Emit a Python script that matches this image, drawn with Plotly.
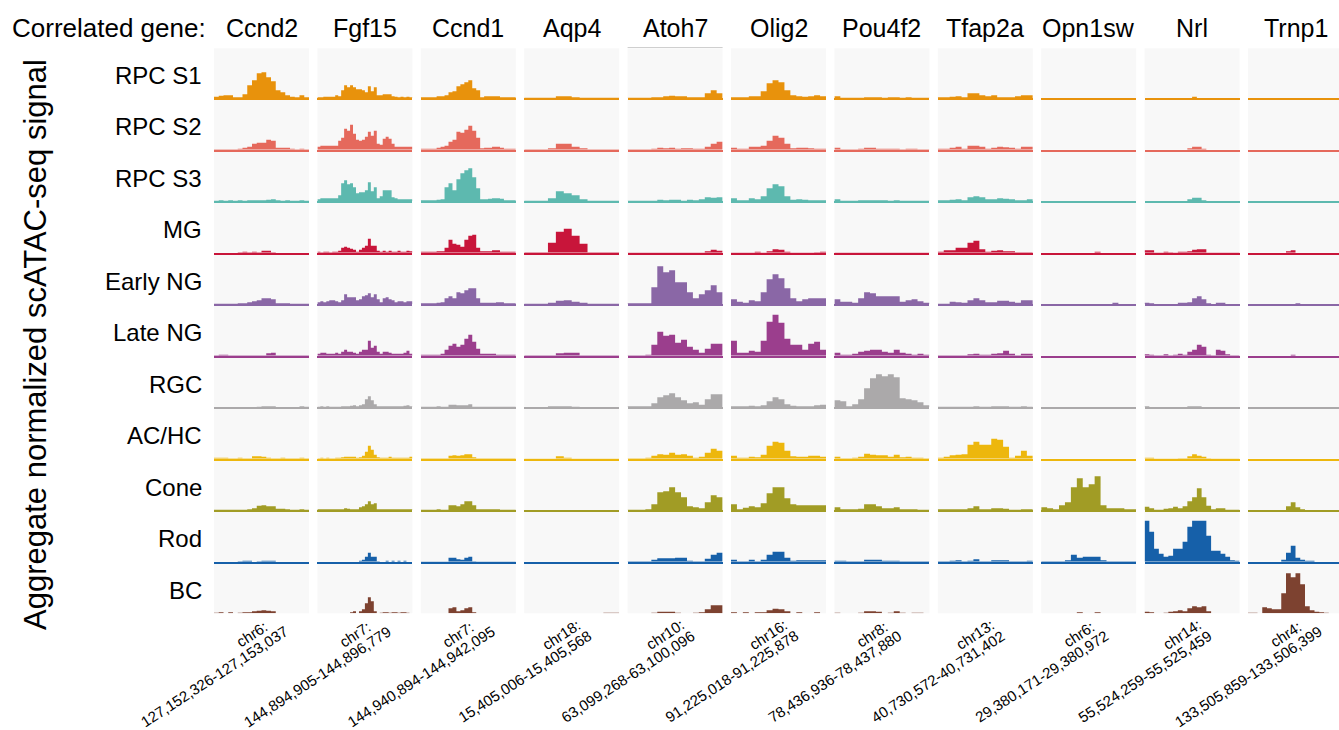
import plotly.graph_objects as go

W, H = 1339, 730

genes = ["Ccnd2", "Fgf15", "Ccnd1", "Aqp4", "Atoh7", "Olig2", "Pou4f2", "Tfap2a", "Opn1sw", "Nrl", "Trnp1"]
cell_types = ["RPC S1", "RPC S2", "RPC S3", "MG", "Early NG", "Late NG", "RGC", "AC/HC", "Cone", "Rod", "BC"]
region_chrom = ["chr6:", "chr7:", "chr7:", "chr18:", "chr10:", "chr16:", "chr8:", "chr13:", "chr6:", "chr14:", "chr4:"]
region_span = [
    "127,152,326-127,153,037",
    "144,894,905-144,896,779",
    "144,940,894-144,942,095",
    "15,405,006-15,405,568",
    "63,099,268-63,100,096",
    "91,225,018-91,225,878",
    "78,436,936-78,437,880",
    "40,730,572-40,731,402",
    "29,380,171-29,380,972",
    "55,524,259-55,525,459",
    "133,505,859-133,506,399",
]
row_colors = ["#E8920C", "#E5695C", "#5DB9AF", "#C8153A", "#8A67A6", "#9B3E8D",
              "#ABA9AA", "#EDB70D", "#A19C25", "#1660A9", "#7D4230"]

# aggregate signal per genomic bin, rows follow cell_types
ccnd2 = [
    [1.5, 2.5, 3, 3, 1, 1, 4, 13, 18, 25, 26, 21, 17, 8, 6, 3, 1.5, 1, 3, 1],
    [0.5, 0.5, 0.5, 0.5, 0.5, 1, 2, 3, 6, 7, 7, 10, 9, 2, 2, 2, 1, 0.5, 1, 0.5],
    [0.5, 1, 0.5, 1, 0.5, 1, 0.5, 1, 1, 1, 1, 1.5, 2, 1, 0.5, 1, 0.5, 0.5, 1, 0.5],
    [0, 0, 0, 0, 0, 0.5, 1, 0.5, 1, 0.5, 2, 2, 0.5, 0, 0, 0, 0, 0, 0, 0],
    [0.5, 0.5, 0.5, 0.5, 0.5, 1, 1, 2, 3, 4, 6, 6, 5, 1, 1, 1, 0.5, 0.5, 0.5, 0.5],
    [0.5, 1, 1, 0.5, 0.5, 0.5, 0.5, 0.5, 0.5, 0.5, 0.5, 2.5, 3, 0.5, 0.5, 0.5, 0.5, 0.5, 0.5, 0.5],
    [0, 0, 0, 0, 0, 0, 0, 0, 0, 0.5, 1, 1, 1, 0, 0, 0, 0, 0, 1, 0.5],
    [1, 1, 1, 0.5, 0.5, 1, 0.5, 0.5, 2.5, 2.5, 2, 1, 0.5, 0.5, 1, 0.5, 0.5, 0.5, 1, 0.5],
    [0.5, 0.5, 0.5, 0.5, 0.5, 0.5, 0.5, 1, 2, 4.5, 5, 4, 4, 1.5, 1.5, 1, 0.5, 0.5, 1, 0.5],
    [0, 0, 0, 0, 0, 0.5, 1, 1, 0, 0.5, 1, 1, 1, 0, 0, 0, 0, 0, 0, 0],
    [0.5, 1, 0, 1, 0, 0.5, 1, 1, 2, 2.5, 3, 2.5, 2, 0, 0, 0, 0, 0, 0, 0],
]
fgf15 = [
    [1, 1, 1.5, 1.5, 1.5, 1.5, 3, 2, 8, 13, 11, 13, 11, 9, 9, 8, 6, 12, 7, 11, 3, 3, 4, 4, 4, 2, 1.5, 1, 1.5, 1, 1.5, 1],
    [3, 4, 4, 4, 4, 4, 4, 9, 12, 21, 19, 25, 16, 10, 9, 10, 13, 18, 14, 19, 6, 5, 11, 13, 11, 6, 3, 3, 3, 3, 3, 3],
    [2, 3, 3, 3, 3, 3, 3, 6, 18, 21, 17, 18, 14, 8, 9, 9, 11, 19, 10, 14, 3, 5, 11, 11, 11, 4, 3, 2, 2, 2, 2, 2],
    [1, 0.5, 1, 1, 0.5, 1, 1, 2, 5, 6, 5, 4, 3, 1, 3, 5, 7, 14, 7, 7, 2, 1, 2, 1, 2, 1, 1, 2, 1, 1, 2, 1.5],
    [2, 3, 2, 3, 4, 4, 3, 2, 4, 10, 7, 7, 7, 4, 5, 8, 9, 11, 7, 10, 5, 2, 6, 7, 5, 4, 2, 3, 3, 2, 3, 3],
    [2, 3, 3, 2, 2, 2, 3, 2, 4, 6, 4, 4, 3, 2, 4, 6, 6, 15, 8, 10, 4, 2, 4, 4, 3, 2, 2, 2, 2, 3, 5, 2],
    [0.5, 1, 0.5, 1, 0.5, 0.5, 0.5, 0.5, 1, 1, 1, 1.5, 2, 1, 2, 3, 8, 11, 7, 3, 1, 1, 1, 1, 1, 1, 1, 1, 1, 1.5, 2, 1],
    [0.5, 1, 0.5, 1, 0.5, 0.5, 1, 1, 1.5, 2, 2, 2, 2, 1, 1.5, 3, 7, 13, 9, 4, 1.5, 1, 1, 1, 2, 1, 1, 1, 1, 1, 1, 2],
    [1, 1, 1, 1, 1, 1, 1, 1, 1, 2, 1.5, 1, 1, 1, 3, 4, 6, 9, 6, 7, 1, 1, 1, 1, 1, 1, 1, 1, 1, 1, 1, 1],
    [0, 0, 0, 0, 0, 0, 0, 0, 0, 0, 0, 0, 0, 0, 1, 2, 5, 9, 5, 5, 0.5, 0, 0, 1, 0, 1, 0, 1, 0, 1, 0, 0],
    [0, 0, 0, 0, 0, 0, 0, 0, 0, 0, 0, 1, 2, 0, 2, 4, 10, 16, 12, 2, 0, 0.5, 1, 1, 0.5, 1, 1, 0.5, 1, 1, 0.5, 0],
]
ccnd1 = [
    [1, 1, 1, 1, 2, 2, 3, 6, 7, 12, 14, 16, 18, 10, 8, 1, 2, 2, 2, 2, 1, 1, 1, 1],
    [1, 1, 1, 1, 2, 3, 4, 8, 10, 18, 17, 20, 24, 19, 12, 1.5, 2, 2, 3, 3, 2, 1, 1, 1],
    [1, 1, 1, 1, 1.5, 2, 14, 18, 11, 22, 28, 31, 33, 24, 13, 2, 2, 2.5, 3, 3, 2.5, 1, 1, 1],
    [1, 1, 1, 1, 1.5, 1.5, 5, 13, 9, 8, 6, 13, 17, 18, 5, 1.5, 1.5, 1.5, 2.5, 2.5, 1, 1, 1, 1],
    [1, 1, 1, 1, 1.5, 2, 6, 8, 6, 12, 11, 14, 16, 16, 6, 1.5, 1.5, 1.5, 1.5, 2, 2, 1, 1, 1],
    [1, 1, 1, 1, 1, 2, 6, 10, 12, 9, 11, 17, 21, 14, 7, 2, 2, 2, 2, 1, 1, 1, 1, 1],
    [0.5, 0.5, 0.5, 0.5, 1, 0.5, 0.5, 2.5, 2.5, 2, 2, 2, 3, 0.5, 0.5, 0.5, 0.5, 0.5, 0.5, 0.5, 0.5, 0.5, 0.5, 0.5],
    [0.5, 0.5, 0.5, 0.5, 0.5, 0.5, 0.5, 3, 3.5, 3, 3.5, 4.5, 4.5, 1.5, 0.5, 0.5, 0.5, 0.5, 0.5, 0.5, 0.5, 0.5, 0.5, 0.5],
    [0.5, 0.5, 0.5, 0.5, 1, 0.5, 0.5, 5, 5, 4, 6, 9, 9, 5, 1, 1, 1, 1, 1, 1, 0.5, 0.5, 0.5, 0.5],
    [0.3, 0.3, 0.3, 0.3, 0.3, 0.3, 0.3, 4, 4, 2.5, 2, 4, 5, 0.5, 0.3, 0.3, 0.3, 0.3, 0.3, 0.3, 0.3, 0.3, 0.3, 0.3],
    [0, 0, 0, 0, 0, 0, 0, 5, 6, 2, 3, 5, 6, 1, 0, 0, 0, 0, 0, 0, 0, 0, 0, 0],
]
aqp4 = [
    [0.5, 0.5, 0.5, 0.5, 2, 2, 1, 0.5, 0.5, 0.5, 0.5, 0.5],
    [0.5, 0.5, 0.5, 1.5, 6, 6, 3, 1.5, 0.5, 0.5, 0.5, 0.5],
    [0.5, 0.5, 0.5, 3, 10, 8, 6, 2, 0.5, 0.5, 0.5, 0.5],
    [0.5, 0.5, 0.5, 10, 21, 24, 17, 9, 0.5, 0.5, 0.5, 0.5],
    [0.5, 0.5, 0.5, 1.5, 3.5, 4, 2.5, 1.5, 0.5, 0.5, 0.5, 0.5],
    [0.5, 0.5, 0.5, 0.5, 2.5, 3, 3, 0.5, 0.5, 0.5, 0.5, 0.5],
    [0, 0, 0, 1, 1, 1, 0.5, 0, 0, 0, 0, 0],
    [0.3, 0.3, 0.3, 0.3, 2.5, 1, 0.3, 0.3, 0.3, 0.3, 0.3, 0.3],
    [0, 0, 0, 0, 0, 0, 0, 0, 0, 0, 0, 0],
    [0, 0, 0, 0, 0, 0, 0, 0, 0, 0, 0, 0],
    [0, 0, 0, 0, 0, 0, 0, 0, 0, 0, 0.5, 0.5],
]
atoh7 = [
    [0.5, 0.5, 0.5, 0.5, 1, 1, 2, 2.5, 2, 2, 1, 1, 1, 5, 8, 5],
    [0.5, 0.5, 0.5, 0.5, 1, 2, 1.5, 2, 1, 1.5, 1.5, 1, 1, 3, 6, 8],
    [0.5, 0.5, 0.5, 0.5, 0.5, 1.5, 1, 1.5, 1.5, 0.5, 1.5, 1, 2, 4, 3.5, 4],
    [0.3, 0.3, 0.3, 0.3, 0.3, 0.3, 0.3, 0.3, 0.3, 0.3, 0.3, 0.3, 0.3, 1.5, 3, 2],
    [1, 1, 1, 1, 17, 38, 32, 34, 22, 22, 12, 6, 10, 14, 19, 12],
    [0.5, 0.5, 0.5, 1, 11, 24, 20, 21, 13, 16, 9, 6, 3, 7, 12, 12],
    [1, 1, 1, 1, 4, 10, 12, 14, 10, 7, 4, 5, 2.5, 8, 13, 13],
    [0.5, 0.5, 0.5, 1, 3, 4.5, 4, 6, 4, 4.5, 3, 1, 2, 6, 10, 8],
    [0.5, 0.5, 0.5, 1, 6, 18, 19, 23, 18, 13, 4, 3, 2, 8, 15, 13],
    [0.5, 0.5, 0.5, 0.5, 2, 3.5, 3.5, 3.5, 4, 4, 1, 0.5, 0.5, 3, 7, 9],
    [0, 0, 0, 0, 0.5, 1.5, 1.5, 1.5, 0.5, 0, 0, 0.5, 1, 4, 8, 8],
]
olig2 = [
    [1, 1, 1, 2, 2, 7, 15, 18, 16, 8, 3, 2, 1.5, 2, 3, 2],
    [2, 1, 1, 3, 3, 4, 9, 14, 12, 6, 1.5, 2, 2, 1.5, 1, 1],
    [3, 1, 1, 3, 2, 5, 13, 17, 15, 5, 1.5, 2, 1.5, 1, 1, 1],
    [0.3, 0.3, 0.3, 0.3, 1, 0.3, 1.5, 3.5, 3, 1, 0.3, 0.3, 0.3, 0.3, 0.5, 1],
    [5, 2.5, 1.5, 4, 3, 12, 25, 30, 26, 16, 6, 3, 5, 6, 6, 6],
    [15, 3, 3, 5, 4, 15, 34, 41, 33, 17, 11, 11, 6, 12, 14, 6],
    [1, 1, 1, 1.5, 1, 2, 6, 10, 8, 3, 1.5, 1, 1, 1, 2, 2.5],
    [3, 1, 1, 2, 1.5, 4, 13, 17, 16, 8, 2.5, 2, 2, 3, 3, 2],
    [6, 1, 2.5, 4, 3, 7, 17, 23, 23, 12, 6, 5, 5, 5, 5, 5],
    [2, 0.5, 0.5, 2, 0.5, 2, 7, 10, 10, 4, 1, 1.5, 1.5, 1.5, 1.5, 1.5],
    [1, 0, 1, 0, 1, 1, 3, 4.5, 4, 2, 0, 1, 0, 0, 1, 0],
]
pou4f2 = [
    [2, 0.5, 0.5, 0.5, 0.5, 1, 1, 1, 0.5, 1, 1, 0.5, 1, 0.5, 0.5, 0.5],
    [2, 0.5, 0.5, 0.5, 1, 2, 2, 1, 1, 1, 1, 0.5, 1, 1, 0.5, 0.5],
    [2, 0.5, 0.5, 0.5, 1, 1, 1, 1, 1, 0.5, 1, 0.5, 0.5, 0.5, 0.5, 0.5],
    [0.3, 0.3, 0.3, 0.3, 0.3, 0.3, 0.3, 0.3, 0.3, 0.3, 0.3, 0.3, 0.3, 0.3, 0.3, 0.3],
    [5, 2.5, 2.5, 1.5, 6, 12, 11, 8, 8, 8, 8, 2.5, 4, 5, 3, 1.5],
    [3, 1, 1, 2, 4, 5, 6, 6, 4, 3, 6, 3, 2, 1, 2, 1],
    [7, 6, 1, 3, 8, 19, 29, 33, 31, 33, 30, 9, 8, 7, 5, 2],
    [2, 0.5, 0.5, 1, 2, 5, 4, 3.5, 3.5, 2, 4, 1.5, 2, 1, 1, 0.5],
    [3, 1, 1, 1, 1.5, 6, 6, 4, 2, 2, 3, 1, 1, 1, 0.5, 0.5],
    [1, 1, 0.5, 0.5, 0.5, 2, 2, 2, 1, 1, 1, 0.5, 0.5, 0.5, 0.5, 0.5],
    [0.5, 0, 0, 0, 0.5, 2, 2, 1.5, 0, 0.5, 2, 0.5, 0, 0.5, 0.5, 0],
]
tfap2a = [
    [1, 1, 1.5, 2, 1, 5, 5, 3, 2, 3, 1, 1, 1, 2, 3, 3],
    [1, 1, 2, 3, 1, 4, 4, 3, 1, 2, 3, 2.5, 2, 1, 3, 3],
    [1, 1, 1.5, 2, 1, 4, 5, 4, 2, 2, 3, 2.5, 2, 1, 1, 2],
    [1, 2.5, 2.5, 5, 5, 10, 12, 3.5, 1, 2, 2.5, 1.5, 1.5, 0.5, 0.5, 0.5],
    [0.5, 0.5, 2.5, 2, 1.5, 4, 6, 4, 2, 2, 3.5, 3.5, 2.5, 1.5, 4, 4],
    [0.5, 0.5, 0.5, 0.5, 0.5, 1.5, 2, 1, 1, 2, 2.5, 5, 2, 0.5, 2, 2],
    [0.5, 0.5, 0.5, 0.5, 0.5, 0.5, 1, 0.5, 0.5, 1, 1, 1, 0.5, 0.5, 1, 0.5],
    [1, 2, 3.5, 4, 4.5, 14, 17, 14, 14, 20, 19, 12, 1, 3, 8, 3],
    [1, 1, 1, 1, 1, 2, 4, 1, 1, 2, 2, 1.5, 0.5, 0.5, 1, 1],
    [0.5, 0.5, 1, 1.5, 0.5, 1, 2.5, 0.5, 0.5, 1.5, 1.5, 1.5, 0.5, 0.5, 0.5, 1],
    [0, 0, 0, 0, 0, 0, 0, 0, 0, 0, 0, 0, 0, 0, 0, 0],
]
opn1sw = [
    [0, 0, 0, 0, 0, 0, 0, 0, 0, 0, 0, 0, 0, 0, 0, 0],
    [0, 0, 0, 0, 0, 0, 0, 0, 0, 0, 0, 0, 0, 0, 0, 0],
    [0, 0, 0, 0, 0, 0, 0, 0, 0, 0, 0, 0, 0, 0, 0, 0],
    [0, 0, 0, 0, 0, 0, 0, 0, 0, 1, 0, 0, 0, 0, 0, 0],
    [0, 0, 0, 0, 0, 0, 0, 0, 0, 0, 0, 0, 1.5, 0, 0, 0],
    [0, 0, 0, 0, 0, 0, 0, 0, 0, 0, 0, 0, 0, 0, 0, 0],
    [0, 0, 0, 0, 0, 0, 0, 0, 0, 0, 0, 0, 0, 0, 0, 0],
    [0, 0, 0, 0, 0, 0, 0, 0, 0, 0, 0, 0, 0, 0, 0, 0],
    [3, 2, 1, 5, 8, 23, 32, 23, 26, 34, 5, 2, 2, 2, 1, 1],
    [0.5, 0.5, 0.5, 0.5, 1.5, 7, 4, 5, 5, 5, 1.5, 0.5, 0.5, 0.5, 0.5, 0.5],
    [0, 0, 0, 0, 0, 0, 1, 0, 0, 1, 0, 0, 0, 0, 0, 0],
]
nrl = [
    [0, 0, 0, 0, 0, 0, 0, 0, 0, 0, 1.5, 0, 0, 0, 0, 0, 0, 0, 0, 0],
    [0, 0, 0, 0, 0, 0, 0, 0, 0, 1.5, 3, 3, 1, 0, 0, 0, 0, 0, 0, 0],
    [0, 0, 0, 0, 0, 0, 0, 0, 0, 2, 3.5, 3.5, 1, 0, 0, 0, 0, 0, 0, 0],
    [2.5, 2.5, 0.3, 0.3, 1, 0.5, 0.3, 1, 1, 1.5, 3, 3.5, 3.5, 0.3, 0.3, 0.3, 0.3, 0.3, 0.3, 0.3],
    [1.5, 1, 0.3, 0.3, 0.3, 0.3, 0.3, 1.5, 1.5, 2, 6, 8, 5, 1, 0.3, 1.5, 1.5, 0.3, 0.3, 0.3],
    [1.5, 1, 0.5, 0.5, 1.5, 0.5, 1, 2, 1, 4, 6, 11, 9, 1, 0.5, 6, 5, 1.5, 0.5, 0.5],
    [1, 0, 0, 0, 0, 0, 0, 0, 0, 1, 1, 1, 0, 0, 0, 0, 0, 0, 0, 0],
    [1, 1, 0.3, 0.3, 0.3, 0.3, 0.3, 0.5, 0.5, 2.5, 4.5, 3, 2, 0.5, 0.3, 0.3, 0.3, 0.3, 0.3, 0.3],
    [3.5, 2, 0.5, 0.5, 1.5, 2, 3.5, 2, 4, 9, 13, 22, 13, 4.5, 1, 2, 2, 0.5, 0.5, 0.5],
    [41, 30, 13, 8, 5, 6, 13, 13, 20, 35, 41, 41, 41, 26, 11, 11, 8, 5, 1.5, 1],
    [1.5, 1, 0, 0, 0.5, 1.5, 2, 3, 2, 5, 7, 6, 7, 2, 0, 0, 0, 0, 0, 0],
]
trnp1 = [
    [0, 0, 0, 0, 0, 0, 0, 0, 0, 0, 0, 0, 0, 0, 0, 0, 0, 0, 0, 0],
    [0, 0, 0, 0, 0, 0, 0, 0, 0, 0, 0, 0, 0, 0, 0, 0, 0, 0, 0, 0],
    [0, 0, 0, 0, 0, 0, 0, 0, 0, 0, 0, 0, 0, 0, 0, 0, 0, 0, 0, 0],
    [0, 0, 0, 0, 0, 0, 0, 0, 1.5, 2.5, 0, 0, 0, 0, 0, 0, 0, 0, 0, 0],
    [0, 0, 0, 0, 0, 0, 0, 0, 0, 0, 1, 0, 0, 0, 0, 0, 0, 0, 0, 0],
    [0, 0, 0, 0, 0, 0, 0, 0, 0, 1, 0, 0, 0, 0, 0, 0, 0, 0, 0, 0],
    [0, 0, 0, 0, 0, 0, 0, 0, 0, 0, 0, 0, 0, 0, 0, 0, 0, 0, 0, 0],
    [0, 0, 0, 0, 0, 0, 0, 0, 0, 0, 0, 0, 0, 0, 0, 0, 0, 0, 0, 0],
    [0, 0, 0, 0, 0, 0, 0, 0, 4, 8, 3, 1, 0, 0, 0, 0, 0, 0, 0, 0],
    [0, 0, 0, 0, 0, 0, 0, 2, 9, 16, 4, 2, 1, 1, 0, 0, 0, 0, 0, 0],
    [0.5, 0.5, 0, 6, 5, 4, 4, 20, 40, 36, 40, 29, 7, 3, 1.5, 1, 0.5, 0, 0, 0],
]
signals = [ccnd2, fgf15, ccnd1, aqp4, atoh7, olig2, pou4f2, tfap2a, opn1sw, nrl, trnp1]

# ---- geometry (pixels) ----
LEFT0, COL_PITCH, PANEL_W = 214, 103.4, 95
BASE0, ROW_PITCH, PANEL_H = 98.3, 51.5, 50
YMAX = 50
FONT = "Liberation Sans, Arial, sans-serif"

fig = go.Figure()
layout_axes = {}
n = 0
for c, gene_sig in enumerate(signals):
    left = LEFT0 + COL_PITCH * c
    right = min(left + PANEL_W, W)
    for r, vals in enumerate(gene_sig):
        n += 1
        sfx = "" if n == 1 else str(n)
        nb = len(vals)
        xs = [i - 0.5 for i in range(nb)] + [nb - 0.5]
        ys = list(vals) + [vals[-1]]
        fig.add_trace(go.Scatter(
            x=xs, y=ys, mode="lines", line=dict(width=0, shape="hv"),
            fill="tozeroy", fillcolor=row_colors[r],
            xaxis="x" + sfx, yaxis="y" + sfx, hoverinfo="skip", showlegend=False))
        base = BASE0 + ROW_PITCH * r
        top = base - PANEL_H
        xmax = -0.5 + nb * (right - left) / PANEL_W
        layout_axes["xaxis" + sfx] = dict(
            domain=[left / W, right / W], range=[-0.5, xmax], anchor="y" + sfx,
            showgrid=False, zeroline=False, showticklabels=False, ticks="",
            showline=(r != len(cell_types) - 1), linecolor=row_colors[r], linewidth=2,
            fixedrange=True)
        layout_axes["yaxis" + sfx] = dict(
            domain=[1 - base / H, 1 - top / H], range=[0, YMAX], anchor="x" + sfx,
            showgrid=False, zeroline=False, showticklabels=False, ticks="",
            showline=False, fixedrange=True)

annotations = []
annotations.append(dict(text="Correlated gene:", x=208 / W, y=1 - 28 / H, xref="paper", yref="paper",
                        xanchor="right", yanchor="middle", showarrow=False,
                        font=dict(size=26, color="black", family=FONT)))
for c, g in enumerate(genes):
    cx = LEFT0 + COL_PITCH * c + PANEL_W / 2
    annotations.append(dict(text=g, x=cx / W, y=1 - 28 / H, xref="paper", yref="paper",
                            xanchor="center", yanchor="middle", showarrow=False,
                            font=dict(size=25, color="black", family=FONT)))
    annotations.append(dict(text=region_span[c], x=(cx - 47.5) / W, y=1 - 676 / H,
                            xref="paper", yref="paper", xanchor="center", yanchor="middle",
                            showarrow=False, textangle=-33,
                            font=dict(size=15, color="black", family=FONT)))
    annotations.append(dict(text=region_chrom[c], x=(cx - 10.5) / W, y=1 - 634 / H,
                            xref="paper", yref="paper", xanchor="center", yanchor="middle",
                            showarrow=False, textangle=-33,
                            font=dict(size=15, color="black", family=FONT)))
for r, ct in enumerate(cell_types):
    base = BASE0 + ROW_PITCH * r
    annotations.append(dict(text=ct, x=204 / W, y=1 - (base - 23) / H, xref="paper", yref="paper",
                            xanchor="right", yanchor="middle", showarrow=False,
                            font=dict(size=24, color="black", family=FONT)))
annotations.append(dict(text="Aggregate normalized scATAC-seq signal", x=35 / W, y=1 - 345 / H,
                        xref="paper", yref="paper", xanchor="center", yanchor="middle",
                        showarrow=False, textangle=-90,
                        font=dict(size=31, color="black", family=FONT)))

shapes = [dict(type="line", xref="paper", yref="paper",
               x0=(LEFT0 + COL_PITCH * 4) / W, x1=(LEFT0 + COL_PITCH * 4 + PANEL_W) / W,
               y0=1 - 47.5 / H, y1=1 - 47.5 / H, line=dict(color="#CFCFCF", width=1))]

fig.update_layout(
    width=W, height=H, margin=dict(l=0, r=0, t=0, b=0),
    paper_bgcolor="white", plot_bgcolor="#F8F8F8",
    showlegend=False, annotations=annotations, shapes=shapes,
    **layout_axes)

fig.write_html("out.html", config={"displayModeBar": False})
